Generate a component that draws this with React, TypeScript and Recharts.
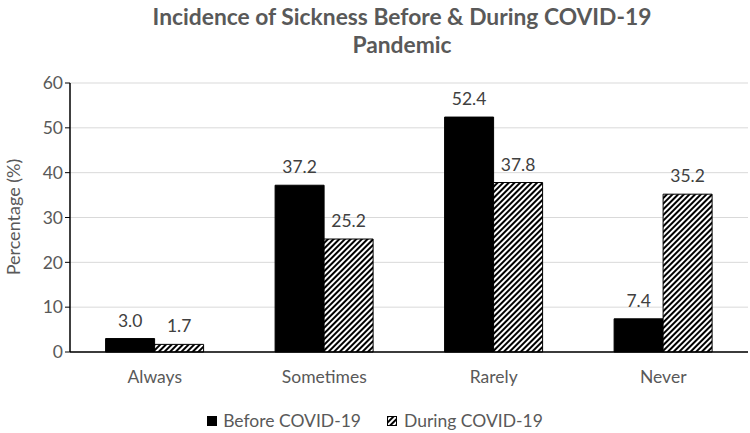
import { BarChart, Bar, XAxis, YAxis, CartesianGrid, Legend, LabelList } from 'recharts';

const categories = ['Always', 'Sometimes', 'Rarely', 'Never'];
const beforeCovid = [3.0, 37.2, 52.4, 7.4];
const duringCovid = [1.7, 25.2, 37.8, 35.2];
const yTicks = [0, 10, 20, 30, 40, 50, 60];

const data = categories.map((name, i) => ({
  name,
  before: beforeCovid[i],
  during: duringCovid[i],
}));

const font = 'Lato, "Open Sans", sans-serif';

const renderLegend = () => (
  <div style={{ display: 'flex', justifyContent: 'center', gap: 26, fontFamily: font, fontSize: 17.5, lineHeight: '20px', color: '#595959' }}>
    <span style={{ display: 'flex', alignItems: 'center' }}>
      <svg width={10} height={10} style={{ marginRight: 6 }}>
        <rect x={0} y={0} width={10} height={10} fill="#000" />
      </svg>
      Before COVID-19
    </span>
    <span style={{ display: 'flex', alignItems: 'center' }}>
      <svg width={10} height={10} style={{ marginRight: 7 }}>
        <rect x={0.5} y={0.5} width={9} height={9} fill="url(#hatch)" stroke="#000" />
      </svg>
      During COVID-19
    </span>
  </div>
);

const App = () => {
  return (
    <div style={{ position: 'absolute', left: 0, top: 0, width: 750, height: 433, background: '#fff' }}>
      <svg width={0} height={0} style={{ position: 'absolute' }}>
        <defs>
          <pattern id="hatch" width={4} height={4} patternUnits="userSpaceOnUse" patternTransform="rotate(45)">
            <rect width={4} height={4} fill="#fff" />
            <rect width={2} height={4} fill="#000" />
          </pattern>
        </defs>
      </svg>
      <div
        style={{
          position: 'absolute',
          left: 62,
          width: 680,
          top: 2,
          textAlign: 'center',
          fontFamily: font,
          fontWeight: 'bold',
          fontSize: 22.8,
          lineHeight: '28px',
          color: '#595959',
        }}
      >
        Incidence of Sickness Before &amp; During COVID-19
        <br />
        Pandemic
      </div>
      <div
        style={{
          position: 'absolute',
          left: 13,
          top: 217,
          transform: 'translate(-50%, -50%) rotate(-90deg)',
          whiteSpace: 'nowrap',
          fontFamily: font,
          fontSize: 18,
          color: '#595959',
        }}
      >
        Percentage (%)
      </div>
      <BarChart
        width={750}
        height={433}
        data={data}
        barGap={0}
        barCategoryGap="21%"
        margin={{ top: 83, right: 2, left: 0, bottom: 10 }}
      >
        <CartesianGrid vertical={false} stroke="#d9d9d9" />
        <XAxis
          dataKey="name"
          tickLine={false}
          axisLine={{ stroke: '#000', strokeWidth: 1.5 }}
          tick={{ fill: '#595959', fontSize: 17.5, fontFamily: font }}
          tickMargin={13}
          height={40}
        />
        <YAxis
          domain={[0, 60]}
          ticks={yTicks}
          width={70}
          axisLine={{ stroke: '#000', strokeWidth: 1.5 }}
          tickLine={{ stroke: '#000' }}
          tickSize={5}
          tick={{ fill: '#595959', fontSize: 17.5, fontFamily: font }}
        />
        <Legend verticalAlign="bottom" height={31} content={renderLegend} wrapperStyle={{ top: 411, left: 0, width: 750 }} />
        <Bar dataKey="before" name="Before COVID-19" fill="#000" stroke="#000" isAnimationActive={false}>
          <LabelList
            dataKey="before"
            position="top"
            offset={12}
            formatter={(v: number) => v.toFixed(1)}
            style={{ fill: '#404040', fontSize: 17.5, fontFamily: font }}
          />
        </Bar>
        <Bar dataKey="during" name="During COVID-19" fill="url(#hatch)" stroke="#000" isAnimationActive={false}>
          <LabelList
            dataKey="during"
            position="top"
            offset={12}
            formatter={(v: number) => v.toFixed(1)}
            style={{ fill: '#404040', fontSize: 17.5, fontFamily: font }}
          />
        </Bar>
      </BarChart>
    </div>
  );
};

export default App;
